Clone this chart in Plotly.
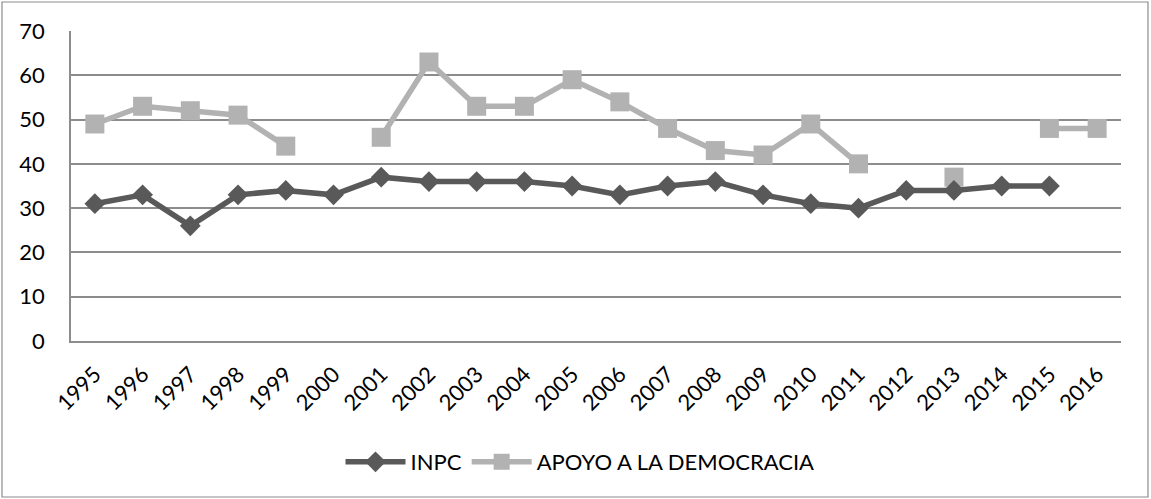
import plotly.graph_objects as go

years = [str(y) for y in range(1995, 2017)]
inpc = [31, 33, 26, 33, 34, 33, 37, 36, 36, 36, 35, 33, 35, 36, 33, 31, 30, 34, 34, 35, 35, None]
apoyo = [49, 53, 52, 51, 44, None, 46, 63, 53, 53, 59, 54, 48, 43, 42, 49, 40, None, 37, None, 48, 48]

W, H = 1151, 499
L, R, T, B = 71, 1121, 31, 341

fig = go.Figure()
fig.add_trace(go.Scatter(
    x=years, y=apoyo, name="APOYO A LA DEMOCRACIA", mode="lines+markers",
    line=dict(color="#b2b2b2", width=5.5),
    marker=dict(symbol="square", size=19, color="#b2b2b2"),
    connectgaps=False,
))
fig.add_trace(go.Scatter(
    x=years, y=inpc, name="INPC", mode="lines+markers",
    line=dict(color="#595959", width=5.5),
    marker=dict(symbol="diamond", size=16, color="#595959"),
    connectgaps=False,
))

pw, ph = R - L, B - T
def px(x):
    return (x - L) / pw
def py(y):
    return (B - y) / ph

fig.add_shape(type="rect", xref="paper", yref="paper",
              x0=px(2), x1=px(1148), y0=py(497), y1=py(2),
              line=dict(color="#8c8c8c", width=1.2), layer="below")

fig.update_layout(
    width=W, height=H,
    margin=dict(l=L, r=W - R, t=T, b=H - B, autoexpand=False),
    plot_bgcolor="white", paper_bgcolor="white",
    font=dict(family="Lato, Carlito, Calibri, sans-serif", size=22, color="#000000"),
    showlegend=True,
    legend=dict(orientation="h", x=px(580), xanchor="center", y=py(462), yanchor="middle",
                traceorder="reversed", font=dict(size=22), itemwidth=60,
                bgcolor="rgba(0,0,0,0)"),
    xaxis=dict(type="category", range=[-0.5, 21.5], tickangle=-45, automargin=False,
               showgrid=False, showline=True, linecolor="#8c8c8c", linewidth=1.5,
               ticks="", ticklabelstandoff=10, tickfont=dict(size=22)),
    yaxis=dict(range=[0, 70], dtick=10, showgrid=True, gridcolor="#8c8c8c", gridwidth=1.5,
               showline=True, linecolor="#8c8c8c", linewidth=1.5, zeroline=False, automargin=False,
               ticks="", ticklabelstandoff=20, tickfont=dict(size=22)),
)
fig.write_html("out.html", config={"displayModeBar": False},
               post_script="document.body.style.margin='0';")
